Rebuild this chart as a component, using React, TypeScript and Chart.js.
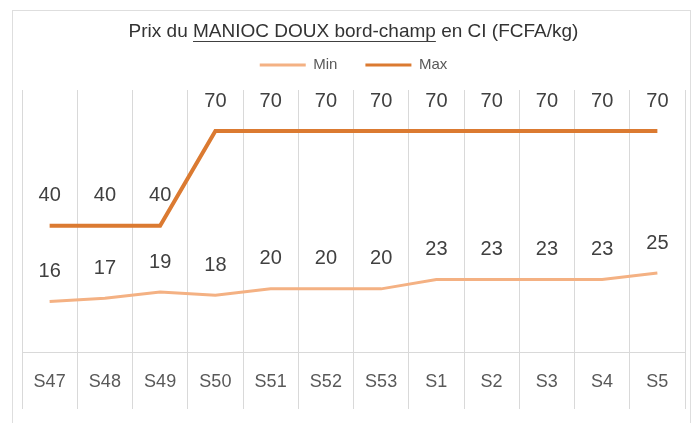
import React, { useEffect, useRef } from "react";
import { Chart, registerables } from "chart.js";

Chart.register(...registerables);

const categories = ["S47", "S48", "S49", "S50", "S51", "S52", "S53", "S1", "S2", "S3", "S4", "S5"];
const minValues = [16, 17, 19, 18, 20, 20, 20, 23, 23, 23, 23, 25];
const maxValues = [40, 40, 40, 70, 70, 70, 70, 70, 70, 70, 70, 70];
const titlePrefix = "Prix du ";
const titleUnderlined = "MANIOC DOUX bord-champ";
const titleSuffix = " en CI (FCFA/kg)";
const titleText = titlePrefix + titleUnderlined + titleSuffix;

const FONT = "'Liberation Sans', Arial, sans-serif";
const TITLE_SIZE = 19;

const valueLabels = {
  id: "valueLabels",
  afterDatasetsDraw(chart: any) {
    const ctx = chart.ctx;
    ctx.save();
    ctx.font = `20px ${FONT}`;
    ctx.fillStyle = "#404040";
    ctx.textAlign = "center";
    ctx.textBaseline = "middle";
    chart.data.datasets.forEach((ds: any, i: number) => {
      const meta = chart.getDatasetMeta(i);
      meta.data.forEach((pt: any, j: number) => {
        ctx.fillText(String(ds.data[j]), pt.x, pt.y - 30);
      });
    });
    ctx.restore();
  },
};

const titleUnderline = {
  id: "titleUnderline",
  afterDraw(chart: any) {
    const tb = chart.titleBlock;
    if (!tb) return;
    const ctx = chart.ctx;
    ctx.save();
    ctx.font = `${TITLE_SIZE}px ${FONT}`;
    const full = ctx.measureText(titleText).width;
    const pre = ctx.measureText(titlePrefix).width;
    const seg = ctx.measureText(titleUnderlined).width;
    const cx = (tb.left + tb.right) / 2;
    const pad = tb.options.padding;
    const padTop = typeof pad === "number" ? pad : pad.top;
    const cy = tb.top + padTop + (TITLE_SIZE * 1.2) / 2;
    const x0 = cx - full / 2 + pre;
    const y = Math.round(cy + TITLE_SIZE * 0.5) + 0.5;
    ctx.strokeStyle = "#404040";
    ctx.lineWidth = 1;
    ctx.beginPath();
    ctx.moveTo(x0, y);
    ctx.lineTo(x0 + seg, y);
    ctx.stroke();
    ctx.restore();
  },
};

export default function App() {
  const ref = useRef<HTMLCanvasElement>(null);
  useEffect(() => {
    const chart = new Chart(ref.current as HTMLCanvasElement, {
      type: "line",
      data: {
        labels: categories,
        datasets: [
          {
            label: "Min",
            data: minValues,
            borderColor: "#F4B183",
            backgroundColor: "#F4B183",
            borderWidth: 3,
            pointRadius: 0,
            tension: 0,
          },
          {
            label: "Max",
            data: maxValues,
            borderColor: "#DB7A31",
            backgroundColor: "#DB7A31",
            borderWidth: 4,
            pointRadius: 0,
            tension: 0,
          },
        ],
      },
      options: {
        responsive: false,
        animation: false,
        layout: { padding: { left: 22, right: 14, top: 10, bottom: 14 } },
        plugins: {
          title: {
            display: true,
            text: titleText,
            color: "#333333",
            font: { family: FONT, size: TITLE_SIZE, weight: "normal" },
            padding: { top: 10.5, bottom: -13.8 },
          },
          legend: {
            display: true,
            labels: {
              boxWidth: 46,
              boxHeight: 3,
              color: "#595959",
              font: { family: FONT, size: 15 },
              padding: 28,
              generateLabels: (chart: any) =>
                Chart.defaults.plugins.legend.labels
                  .generateLabels(chart)
                  .map((l: any) => ({ ...l, lineWidth: 0 })),
            },
          },
          tooltip: { enabled: false },
        },
        scales: {
          x: {
            offset: true,
            grid: {
              offset: true,
              color: "#d9d9d9",
              lineWidth: 1,
              drawTicks: true,
              tickLength: 57,
              tickColor: "#d9d9d9",
            },
            border: { display: true, color: "#d9d9d9" },
            ticks: {
              color: "#595959",
              font: { family: FONT, size: 18 },
              padding: -38,
              maxRotation: 0,
              autoSkip: false,
            },
            afterFit: (s: any) => {
              s.height = 57;
            },
          },
          xTop: {
            type: "category",
            position: "top",
            display: true,
            grid: { display: false, drawTicks: false },
            border: { display: false },
            ticks: { display: false },
            afterFit: (s: any) => {
              s.height = 7.5;
            },
          },
          y: { display: false, min: 0, max: 83 },
        },
      },
      plugins: [valueLabels, titleUnderline],
    });
    return () => chart.destroy();
  }, []);
  return (
    <div
      style={{
        position: "absolute",
        left: 0,
        top: 0,
        width: 699,
        height: 423,
        overflow: "hidden",
        background: "#ffffff",
      }}
    >
      <div
        style={{
          position: "absolute",
          left: 12,
          top: 10,
          width: 679,
          height: 440,
          border: "1px solid #dedede",
          boxSizing: "border-box",
        }}
      />
      <canvas
        ref={ref}
        width={699}
        height={423}
        style={{ position: "absolute", left: 0, top: 0, width: 699, height: 423 }}
      />
    </div>
  );
}
